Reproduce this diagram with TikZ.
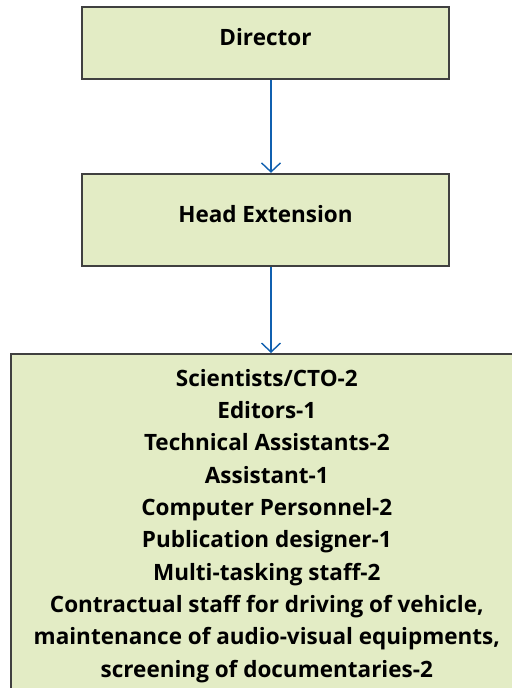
\documentclass[tikz,border=0pt]{standalone}
\usepackage{fontspec}
\setmainfont{Open Sans}
\usetikzlibrary{positioning, arrows.meta}
\definecolor{boxfill}{HTML}{E3ECC5}
\definecolor{boxline}{HTML}{404040}
\definecolor{linkblue}{HTML}{1060B0}
\tikzstyle{post} = [rectangle, minimum width=9.175cm, text centered, text depth=0.28cm, draw=boxline, line width=1.2pt, fill=boxfill, font=\bfseries\fontsize{16}{22.7}\selectfont]
\tikzstyle{staff} = [rectangle, minimum width=12.8cm, minimum height=8.6cm, align=center, draw=boxline, line width=1.2pt, fill=boxfill, font=\bfseries\fontsize{16}{23}\selectfont]
\tikzstyle{edge} = [draw=linkblue, line width=1pt, -{Straight Barb[length=6.4pt, width=13.5pt]}]

\begin{document}
\begin{tikzpicture}

\useasboundingbox (0,0) rectangle (12.8,-17.2);
\clip (0,0) rectangle (12.8,-17.2);

\node (0) [post, minimum height=1.8cm] at (6.6375,-1.075) {Director};
\node (1) [post, minimum height=2.3cm, below=2.325cm of 0] {Head Extension};
\node (2) [staff, anchor=north west] at (0.25,-8.825) {Scientists/CTO-2\\
  Editors-1\\
  Technical Assistants-2\\
  Assistant-1\\
  Computer Personnel-2\\
  Publication designer-1\\
  Multi-tasking staff-2\\
  Contractual staff for driving of vehicle,\\
  maintenance of audio-visual equipments,\\
  screening of documentaries-2};

% arrows sit a little right of the box centres
\coordinate (spine) at (6.775,0);
\draw [edge] (0.south -| spine) -- (1.north -| spine);
\draw [edge] (1.south -| spine) -- (2.north -| spine);

\end{tikzpicture}
\end{document}
